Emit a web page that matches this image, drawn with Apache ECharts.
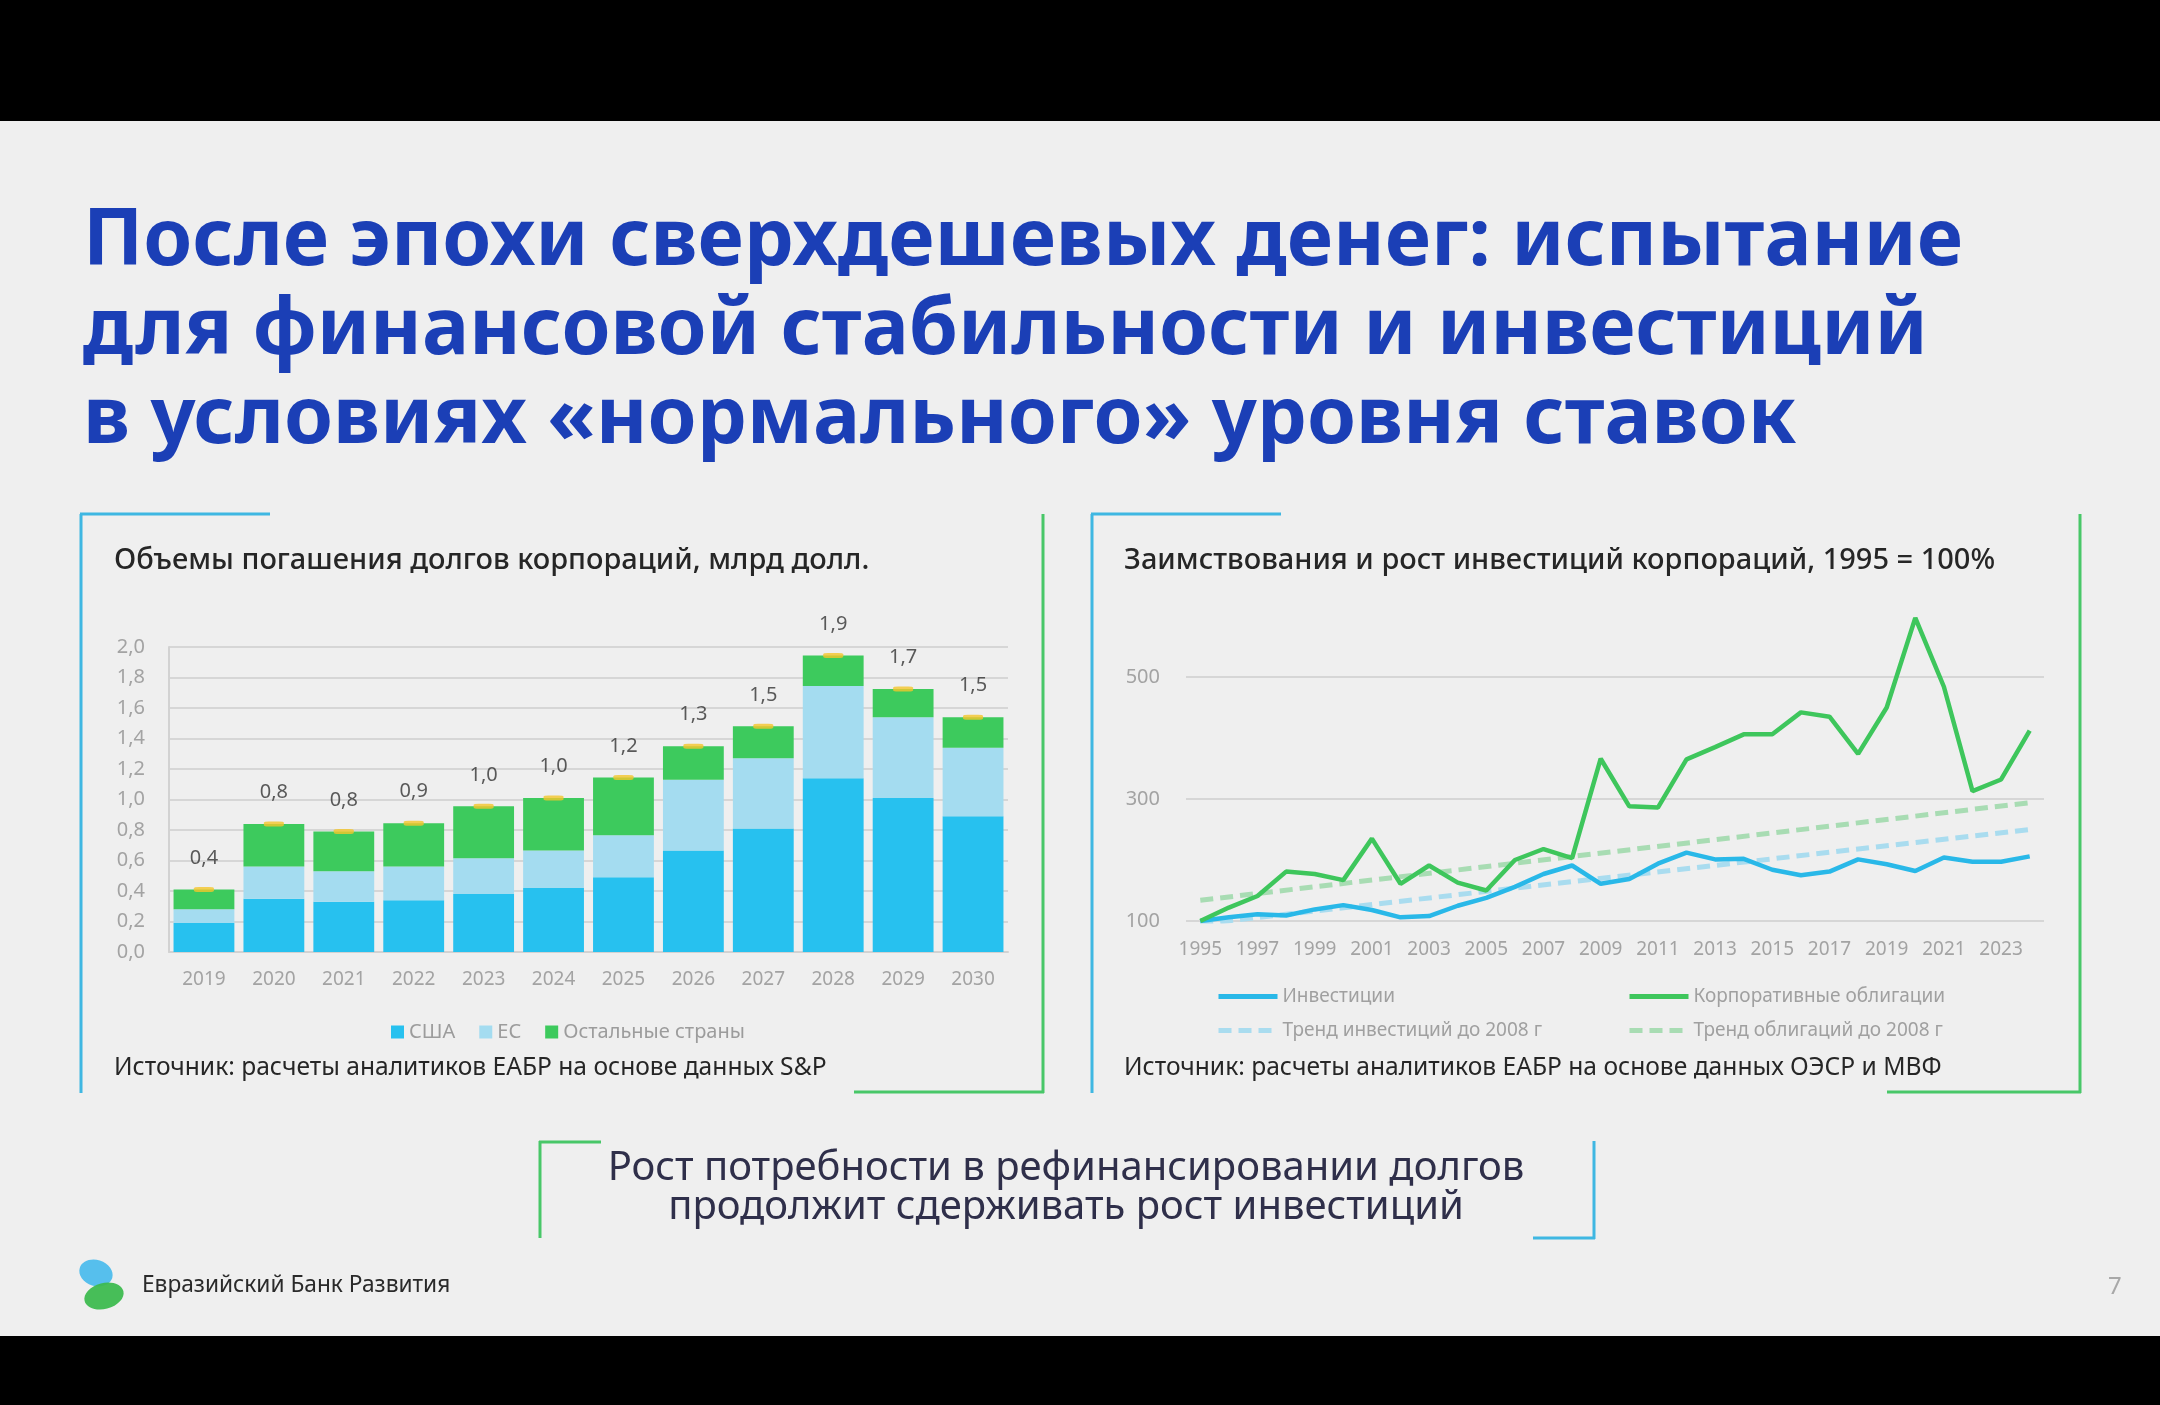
<!DOCTYPE html>
<html><head><meta charset="utf-8">
<script src="https://cdn.jsdelivr.net/npm/echarts@6/dist/echarts.min.js"></script>
<style>html,body{margin:0;padding:0;background:#000;}#c{width:2160px;height:1405px;}</style>
</head><body><div id="c"></div>
<script>
// ---- Left chart data: corporate debt repayments, bn USD ----
const barYears = ['2019','2020','2021','2022','2023','2024','2025','2026','2027','2028','2029','2030'];
const usa   = [0.19, 0.35, 0.33, 0.34, 0.38, 0.42, 0.49, 0.665, 0.81, 1.14, 1.01, 0.89];
const eu    = [0.09, 0.21, 0.20, 0.22, 0.235, 0.245, 0.275, 0.465, 0.46, 0.605, 0.53, 0.45];
const other = [0.13, 0.28, 0.26, 0.285, 0.34, 0.345, 0.38, 0.22, 0.21, 0.20, 0.185, 0.20];
const totalLabels = ['0,4','0,8','0,8','0,9','1,0','1,0','1,2','1,3','1,5','1,9','1,7','1,5'];
const barTicks = [0, 2.0, 0.2]; // min, max, step

// ---- Right chart data: borrowing and investment growth, 1995 = 100% ----
const lineYears = ['1995','1996','1997','1998','1999','2000','2001','2002','2003','2004','2005','2006','2007','2008','2009',
                   '2010','2011','2012','2013','2014','2015','2016','2017','2018','2019','2020','2021','2022','2023','2024'];
const investments = [100,106,111,109,119,126,118,106,108,125,138,156,177,191,161,169,194,212,201,202,184,175,181,201,193,182,204,197,197,206];
const bonds       = [100,122,141,181,177,167,235,161,191,163,150,200,218,203,366,288,286,365,385,406,406,442,435,374,450,597,484,313,332,412];
const trendInv    = [95,null,null,null,null,null,null,null,null,null,null,null,null,null,null,null,null,null,null,null,null,null,null,null,null,null,null,null,null,250];
const trendBond   = [134,null,null,null,null,null,null,null,null,null,null,null,null,null,null,null,null,null,null,null,null,null,null,null,null,null,null,null,null,294];
const lineTickValues = [100, 300, 500];

const FONT = '"Noto Sans", "Open Sans", sans-serif';
const totals = usa.map((v, i) => v + eu[i] + other[i]);

const BLUE = '#3fb7e2', GREEN = '#48c768';
function seg(x1, y1, x2, y2, c) {
  return {type:'line', shape:{x1, y1, x2, y2}, style:{stroke:c, lineWidth:3}, silent:true};
}
function txt(x, y, text, size, color, weight, align, lh) {
  return {type:'text', x, y, silent:true, style:{text, fontSize:size, fontFamily:FONT, fontWeight:weight||'normal',
    fill:color, align:align||'left', verticalAlign:'middle', lineHeight:lh||size*1.2}};
}
const lineLegend = {orient:'vertical', top:982, itemWidth:59, itemHeight:10, itemGap:15,
  itemStyle:{opacity:0}, lineStyle:{width:5},
  textStyle:{fontSize:19, color:'#a0a0a0', fontFamily:FONT}};

const chart = echarts.init(document.getElementById('c'), null, {renderer:'canvas'});
chart.setOption({
  backgroundColor:'#efefef',
  animation:false,
  textStyle:{fontFamily:FONT},
  graphic:[
    {type:'rect', shape:{x:0,y:0,width:2160,height:121}, style:{fill:'#000'}, silent:true},
    {type:'rect', shape:{x:0,y:1336,width:2160,height:69}, style:{fill:'#000'}, silent:true},
    // main title
    {type:'text', x:83, y:198, silent:true, style:{text:'После эпохи сверхдешевых денег: испытание\nдля финансовой стабильности и инвестиций\nв условиях «нормального» уровня ставок',
      fontSize:79, fontWeight:'bold', fontFamily:FONT, fill:'#1b3fb6', lineHeight:89, verticalAlign:'top'}},
    // panel frames
    seg(81,514,81,1093,BLUE), seg(80,514,270,514,BLUE),
    seg(1043,514,1043,1093,GREEN), seg(854,1092,1044,1092,GREEN),
    seg(1092,514,1092,1093,BLUE), seg(1091,514,1281,514,BLUE),
    seg(2080,514,2080,1093,GREEN), seg(1887,1092,2081,1092,GREEN),
    // chart titles and sources
    txt(114,561,'Объемы погашения долгов корпораций, млрд долл.',29,'#262626','500'),
    txt(1124,561,'Заимствования и рост инвестиций корпораций, 1995 = 100%',29,'#262626','500'),
    txt(114,1068,'Источник: расчеты аналитиков ЕАБР на основе данных S&P',24.6,'#262626'),
    txt(1124,1068,'Источник: расчеты аналитиков ЕАБР на основе данных ОЭСР и МВФ',24.6,'#262626'),
    // conclusion box
    seg(540,1141,540,1238,GREEN), seg(539,1142,601,1142,GREEN),
    seg(1594,1141,1594,1239,BLUE), seg(1533,1238,1595,1238,BLUE),
    {type:'text', x:1066, y:1188, silent:true, style:{text:'Рост потребности в рефинансировании долгов\nпродолжит сдерживать рост инвестиций',
      fontSize:40, fontFamily:FONT, fill:'#2f2f4a', align:'center', verticalAlign:'middle', lineHeight:39}},
    // footer
    {type:'ellipse', shape:{cx:96, cy:1273, rx:17, ry:13}, rotation:-0.3, originX:96, originY:1273, style:{fill:'#45b9ec', opacity:0.9}, silent:true},
    {type:'ellipse', shape:{cx:104, cy:1296, rx:20, ry:13}, rotation:0.25, originX:104, originY:1296, style:{fill:'#3dbb4f', opacity:0.95}, silent:true},
    txt(142,1286,'Евразийский Банк Развития',22.7,'#2a2a2a'),
    txt(2108,1287,'7',24,'#a8a8a8')
  ],
  legend:[
    {data:['США','ЕС','Остальные страны'], left:386, top:1017, icon:'rect', itemWidth:13, itemHeight:13, itemGap:24,
     textStyle:{fontSize:20, color:'#9c9c9c', fontFamily:FONT}},
    Object.assign({data:['Инвестиции','Тренд инвестиций до 2008 г'], left:1211}, lineLegend),
    Object.assign({data:['Корпоративные облигации','Тренд облигаций до 2008 г'], left:1622}, lineLegend)
  ],
  grid:[
    {left:169, right:1152, top:647, bottom:453},
    {left:1186, right:116, top:616, bottom:484}
  ],
  xAxis:[
    {type:'category', gridIndex:0, data:barYears, axisTick:{show:false},
     axisLine:{lineStyle:{color:'#d2d2d2', width:2}},
     axisLabel:{fontSize:19, color:'#a3a3a3', margin:18}},
    {type:'category', gridIndex:1, data:lineYears, axisTick:{show:false}, axisLine:{show:false},
     axisLabel:{fontSize:19, color:'#a3a3a3', margin:19, interval:1}}
  ],
  yAxis:[
    {type:'value', gridIndex:0, min:barTicks[0], max:barTicks[1], interval:barTicks[2],
     axisLine:{show:true, lineStyle:{color:'#d2d2d2', width:2}}, axisTick:{show:false},
     splitLine:{lineStyle:{color:'#d6d6d6', width:2}},
     axisLabel:{fontSize:20, color:'#a3a3a3', margin:24, formatter:v => v.toFixed(1).replace('.', ',')}},
    {type:'value', gridIndex:1, min:100, max:600,
     axisLine:{show:false}, axisTick:{show:false, customValues:lineTickValues},
     splitLine:{lineStyle:{color:'#d6d6d6', width:2}},
     axisLabel:{fontSize:20, color:'#a3a3a3', margin:26, customValues:lineTickValues}}
  ],
  series:[
    {name:'США', type:'bar', stack:'debt', xAxisIndex:0, yAxisIndex:0, data:usa, barCategoryGap:'13%', itemStyle:{color:'#27c1ef'}},
    {name:'ЕС', type:'bar', stack:'debt', xAxisIndex:0, yAxisIndex:0, data:eu, barCategoryGap:'13%', itemStyle:{color:'#a4dcf0'}},
    {name:'Остальные страны', type:'bar', stack:'debt', xAxisIndex:0, yAxisIndex:0, data:other, barCategoryGap:'13%', itemStyle:{color:'#3dca5d'}},
    {name:'Итого', type:'scatter', xAxisIndex:0, yAxisIndex:0, data:totals, symbol:'roundRect', symbolSize:[20,5], z:5,
     itemStyle:{color:'#f4c62a'},
     label:{show:true, position:'top', distance:19, fontSize:20, color:'#333', formatter:p => totalLabels[p.dataIndex]}},
    {name:'Тренд инвестиций до 2008 г', type:'line', xAxisIndex:1, yAxisIndex:1, data:trendInv, connectNulls:true, symbol:'none', z:1,
     lineStyle:{color:'#a9dcef', width:5, type:[13,7]}, itemStyle:{color:'#a9dcef'}},
    {name:'Тренд облигаций до 2008 г', type:'line', xAxisIndex:1, yAxisIndex:1, data:trendBond, connectNulls:true, symbol:'none', z:1,
     lineStyle:{color:'#a8dcb3', width:5, type:[13,7]}, itemStyle:{color:'#a8dcb3'}},
    {name:'Инвестиции', type:'line', xAxisIndex:1, yAxisIndex:1, data:investments, symbol:'none', z:3,
     lineStyle:{color:'#29b8e8', width:4.5}, itemStyle:{color:'#29b8e8'}},
    {name:'Корпоративные облигации', type:'line', xAxisIndex:1, yAxisIndex:1, data:bonds, symbol:'none', z:3,
     lineStyle:{color:'#3ec65c', width:4.5}, itemStyle:{color:'#3ec65c'}}
  ]
});
</script></body></html>
